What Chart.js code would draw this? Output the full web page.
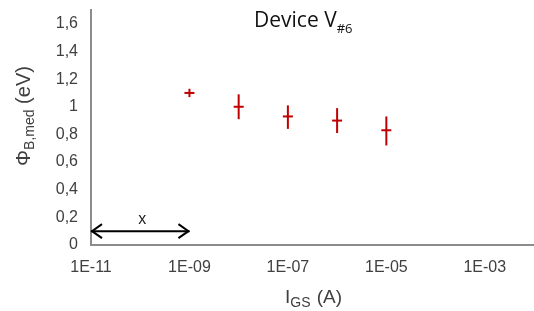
<!DOCTYPE html>
<html>
<head>
<meta charset="utf-8">
<script src="https://cdn.jsdelivr.net/npm/chart.js@4.4.0/dist/chart.umd.min.js"></script>
<style>
  html, body { margin: 0; padding: 0; background: #fff; overflow: hidden; }
  #wrap { width: 541px; height: 311px; }
</style>
</head>
<body>
<div id="wrap"><canvas id="chart"></canvas></div>
<script>
// gate current (A) and median barrier height (eV)
const currents = [1e-9, 1e-8, 1e-7, 1e-6, 1e-5];
const phiMed = [1.10, 1.00, 0.93, 0.90, 0.83];
const errLow = [0.03, 0.09, 0.09, 0.09, 0.11];
const errHigh = [0.03, 0.09, 0.08, 0.09, 0.10];
const xTicks = [1e-11, 1e-9, 1e-7, 1e-5, 1e-3];
const yTicks = [0, 0.2, 0.4, 0.6, 0.8, 1, 1.2, 1.4, 1.6];
const arrowX = [1e-11, 1e-9];
const arrowY = 0.1;

const red = '#c00000';
const axisGrey = '#8c8c8c';
const textCol = '#404040';
const sans = '"Liberation Sans", Arial, sans-serif';

const fmtX = v => {
  const e = Math.round(Math.log10(v));
  return '1E-' + String(-e).padStart(2, '0');
};

// vertical error bars as small line datasets
const errSets = currents.map((c, i) => ({
  data: [{ x: c, y: phiMed[i] - errLow[i] }, { x: c, y: phiMed[i] + errHigh[i] }],
  showLine: true,
  borderColor: red,
  borderWidth: 2,
  pointRadius: 0
}));

// arrowheads, axis titles with subscripts, chart title
const extras = {
  id: 'extras',
  afterDatasetsDraw(chart) {
    const { ctx, scales: { x, y } } = chart;
    const x0 = x.getPixelForValue(arrowX[0]);
    const x1 = x.getPixelForValue(arrowX[1]);
    const ay = y.getPixelForValue(arrowY);
    ctx.save();
    ctx.strokeStyle = '#000';
    ctx.lineWidth = 2;
    ctx.beginPath();
    ctx.moveTo(x0 + 11, ay - 7); ctx.lineTo(x0 + 1, ay); ctx.lineTo(x0 + 11, ay + 7);
    ctx.moveTo(x1 - 11, ay - 7); ctx.lineTo(x1 - 1, ay); ctx.lineTo(x1 - 11, ay + 7);
    ctx.stroke();
    ctx.fillStyle = '#222';
    ctx.font = '16px ' + sans;
    ctx.textAlign = 'center';
    ctx.textBaseline = 'alphabetic';
    ctx.fillText('x', (x0 + x1) / 2 + 2, ay - 7);

    // chart title
    ctx.fillStyle = '#111';
    ctx.textAlign = 'left';
    ctx.font = '21px "Open Sans", sans-serif';
    const t1 = 'Device V';
    ctx.fillText(t1, 254, 27);
    const w1 = ctx.measureText(t1).width;
    ctx.font = '13px "Open Sans", sans-serif';
    ctx.fillText('#6', 254 + w1, 33);

    // x axis title
    ctx.fillStyle = textCol;
    ctx.font = '19px ' + sans;
    let px = 285;
    ctx.fillText('I', px, 303);
    px += ctx.measureText('I').width;
    ctx.font = '14px ' + sans;
    ctx.fillText('GS', px, 307);
    px += ctx.measureText('GS').width + 1;
    ctx.font = '19px ' + sans;
    ctx.fillText(' (A)', px, 303);

    // y axis title, rotated
    ctx.translate(30, 116);
    ctx.rotate(-Math.PI / 2);
    const a = 'Φ', b = 'B,med', c = ' (eV)';
    ctx.font = '14px ' + sans;
    const wb = ctx.measureText(b).width;
    ctx.font = '20px ' + sans;
    const wa = ctx.measureText(a).width, wc = ctx.measureText(c).width;
    let sx = -(wa + wb + wc) / 2;
    ctx.fillText(a, sx, 0);
    sx += wa;
    ctx.font = '14px ' + sans;
    ctx.fillText(b, sx, 4);
    sx += wb;
    ctx.font = '20px ' + sans;
    ctx.fillText(c, sx, 0);
    ctx.restore();
  }
};

new Chart(document.getElementById('chart'), {
  type: 'scatter',
  data: {
    datasets: [
      {
        data: currents.map((c, i) => ({ x: c, y: phiMed[i] })),
        pointStyle: 'line',
        pointRadius: 5,
        pointBorderWidth: 2,
        borderColor: red,
        backgroundColor: red
      },
      ...errSets,
      {
        data: arrowX.map(v => ({ x: v, y: arrowY })),
        showLine: true,
        borderColor: '#000',
        borderWidth: 2,
        pointRadius: 0
      }
    ]
  },
  options: {
    responsive: true,
    maintainAspectRatio: false,
    animation: false,
    layout: { padding: { top: 10, right: 0, left: 0, bottom: 0 } },
    plugins: { legend: { display: false }, tooltip: { enabled: false } },
    scales: {
      x: {
        type: 'logarithmic',
        min: 1e-11,
        max: 1e-2,
        afterBuildTicks: s => { s.ticks = xTicks.map(v => ({ value: v })); },
        afterFit: s => { s.height = 66; s.paddingRight = 0; s.paddingLeft = 0; },
        grid: { display: false, drawTicks: true, tickLength: 5, tickColor: axisGrey },
        border: { color: axisGrey, width: 2 },
        ticks: {
          color: textCol,
          font: { family: sans, size: 16 },
          padding: 8,
          maxRotation: 0,
          callback: v => fmtX(v)
        }
      },
      y: {
        min: 0,
        max: 1.7,
        afterBuildTicks: s => { s.ticks = yTicks.map(v => ({ value: v })); },
        afterFit: s => { s.width = 91; s.paddingTop = 0; s.paddingBottom = 0; },
        grid: { display: false, drawTicks: true, tickLength: 6, tickColor: axisGrey },
        border: { color: axisGrey, width: 2 },
        ticks: {
          color: textCol,
          font: { family: sans, size: 16 },
          padding: 7,
          callback: v => String(Math.round(v * 10) / 10).replace('.', ',')
        }
      }
    }
  },
  plugins: [extras]
});
</script>
</body>
</html>
